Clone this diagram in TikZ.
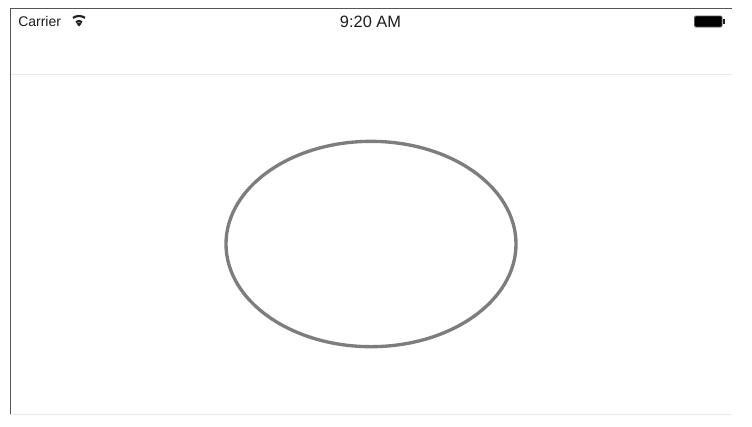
\documentclass[tikz,border=0pt]{standalone}
\usepackage{fontspec}
\setmainfont{Liberation Sans}
\usepackage{tikz}
\usetikzlibrary{shapes.geometric}
\definecolor{framegray}{RGB}{85,85,85}
\definecolor{hairline}{RGB}{232,232,232}
\definecolor{ringgray}{RGB}{125,125,125}
\definecolor{statusink}{RGB}{30,30,30}

\begin{document}
\begin{tikzpicture}[x=.75pt,y=-.75pt,font=\fontsize{10.5pt}{12pt}\selectfont,
  statustext/.style={text=statusink,inner sep=0pt}]
\useasboundingbox (0,0) rectangle (752,426);
\fill[white] (0,0) rectangle (752,426);
\draw[color=hairline,line width=.9pt] (10,74.5)--(732,74.5);
\draw[color=hairline,line width=.9pt] (10,414.5)--(732,414.5);
\draw[color=framegray,line width=1pt] (732,8.5)--(10.5,8.5)--(10.5,414);
\node[statustext,anchor=west] (carrier) at (18,21.5) {Carrier};
\node[statustext,font=\fontsize{12.3pt}{14pt}\selectfont] (clock) at (370.5,21.5) {9:20 AM};
% wifi fan
\foreach \r in {5.5,10.5} {
  \draw[color=statusink,line width=1.6pt] (79,26.5)++(125:\r*.75pt) arc[start angle=125,end angle=55,radius=\r*.75pt];}
\fill[statusink] (79,26.5)--(76.5,23.5) arc[start angle=130,end angle=50,radius=3pt]--cycle;
% battery
\fill[black,draw=framegray,line width=.7pt,rounded corners=1pt] (694.5,16)rectangle(722,27);
\fill[statusink] (723,19)rectangle(725,24);
\node[ellipse,draw=ringgray,line width=2.5pt,minimum width=217.5pt,minimum height=154pt,inner sep=0pt] (ring) at (371,244) {};
\end{tikzpicture}
\end{document}
